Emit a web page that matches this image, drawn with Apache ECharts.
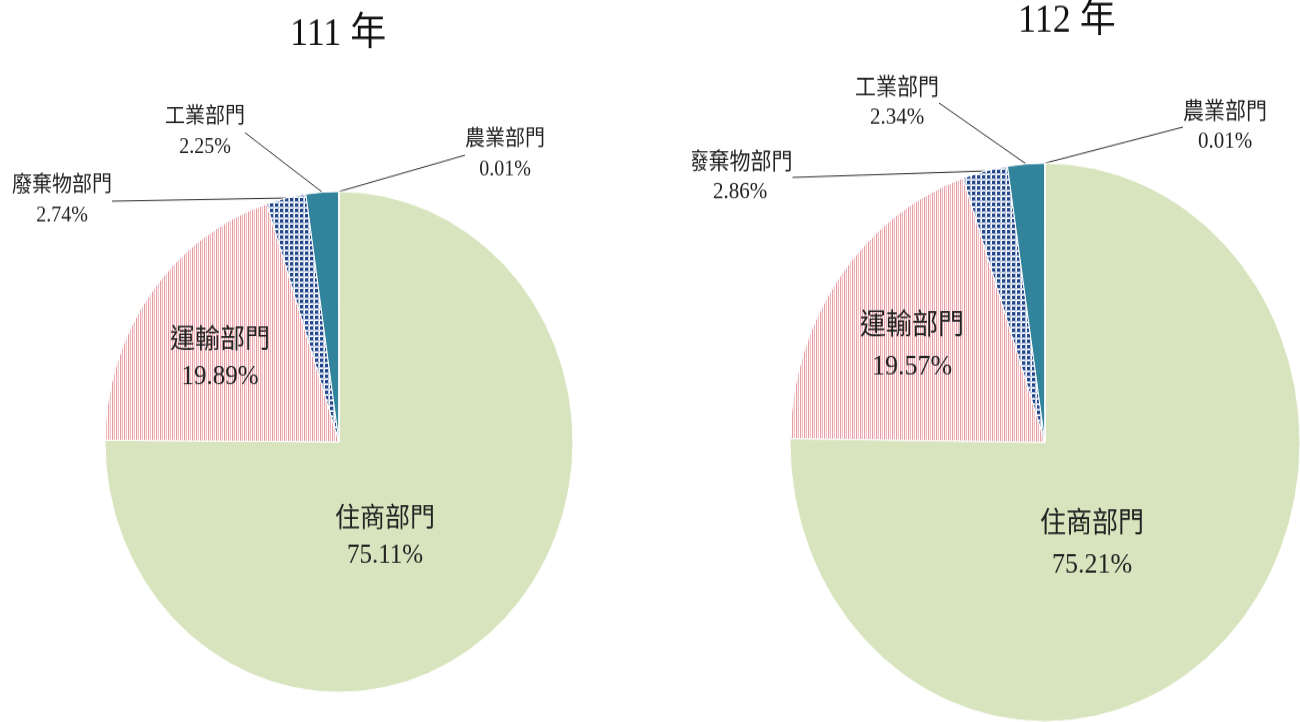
<!DOCTYPE html>
<html>
<head>
<meta charset="utf-8">
<script src="https://cdn.jsdelivr.net/npm/echarts@6/dist/echarts.min.js"></script>
<style>
  html, body { margin: 0; padding: 0; background: #fff; }
  #wrap { position: relative; width: 1300px; height: 722px; overflow: hidden; }
  /* 原圖兩個圓餅都被垂直拉長，用 scaleY 模擬 */
  #pie111 { position: absolute; left: 0; top: 0; width: 692px; height: 675px; transform-origin: 0 0; transform: scaleY(1.07); }
  #pie112 { position: absolute; left: 692px; top: 0; width: 608px; height: 659px; transform-origin: 0 0; transform: scaleY(1.095); }
</style>
</head>
<body>
<div id="wrap">
  <div id="pie111"></div>
  <div id="pie112"></div>
</div>
<script>
// 資料
const sectors = ['住商部門', '運輸部門', '廢棄物部門', '工業部門', '農業部門']
const share111 = [75.11, 19.89, 2.74, 2.25, 0.01]
const share112 = [75.21, 19.57, 2.86, 2.34, 0.01]
const years = ['111 年', '112 年']

const FONT = '"Liberation Serif", "Noto Sans CJK TC", serif'

// 斜線/格紋填色
function stripePattern () {
  const c = document.createElement('canvas')
  c.width = 8; c.height = 2
  const ctx = c.getContext('2d')
  const cols = ['#e49aa1', '#fbecec', '#eeb6bb', '#ffffff', '#e6a3a8', '#fbe8e9', '#f1c3c6', '#ffffff']
  cols.forEach((col, i) => { ctx.fillStyle = col; ctx.fillRect(i, 0, 1, 2) })
  return { image: c, repeat: 'repeat' }
}
function checkPattern () {
  const c = document.createElement('canvas')
  c.width = 5; c.height = 5
  const ctx = c.getContext('2d')
  ctx.fillStyle = '#ffffff'; ctx.fillRect(0, 0, 5, 5)
  ctx.fillStyle = '#b9c6e0'; ctx.fillRect(3, 0, 1, 5); ctx.fillRect(0, 3, 5, 1)
  ctx.fillStyle = '#23478a'; ctx.fillRect(0, 0, 3, 3)
  return { image: c, repeat: 'repeat' }
}
const fills = ['#d7e4bd', stripePattern(), checkPattern(), '#31849b', '#31849b']

function pieOption (title, values, cfg) {
  const data = sectors.map((name, i) => ({
    name: name,
    value: values[i],
    itemStyle: { color: fills[i] },
    label: i < 2
      ? { position: 'inside', fontSize: cfg.inFont, lineHeight: cfg.inLine }
      : { position: 'outside', fontSize: cfg.outFont, lineHeight: cfg.outLine },
    labelLine: { show: i >= 2 }
  }))
  return {
    animation: false,
    title: {
      text: title,
      left: cfg.titleLeft,
      top: cfg.titleTop,
      padding: 0,
      textStyle: { fontFamily: FONT, fontSize: 36, fontWeight: 'normal', color: '#111' }
    },
    series: [{
      type: 'pie',
      center: cfg.center,
      radius: cfg.radius,
      startAngle: 90,
      clockwise: true,
      avoidLabelOverlap: false,
      emphasis: { disabled: true },
      itemStyle: { borderColor: '#fff', borderWidth: 1 },
      label: {
        color: '#222',
        fontFamily: FONT,
        formatter: p => p.name + '\n' + p.value.toFixed(2) + '%'
      },
      labelLine: { length: 10, length2: 0, lineStyle: { color: '#333', width: 1 } },
      labelLayout: params => {
        const p = cfg.labelPos[params.dataIndex]
        return { x: p[0], y: p[1], align: 'center', verticalAlign: 'middle' }
      },
      data: data
    }]
  }
}

let chart111 = echarts.init(document.getElementById('pie111'))
chart111.setOption(pieOption(years[0], share111, {
  center: [339, 413],
  radius: 234,
  titleLeft: 290,
  titleTop: 15,
  inFont: 25, inLine: 34,
  outFont: 20, outLine: 28,
  labelPos: [[385, 502], [220, 335], [62, 188], [205, 124], [505, 145]]
}))

let chart112 = echarts.init(document.getElementById('pie112'))
chart112.setOption(pieOption(years[1], share112, {
  center: [353, 404],
  radius: 255,
  titleLeft: 326,
  titleTop: 2,
  inFont: 26, inLine: 37,
  outFont: 21, outLine: 27,
  labelPos: [[400, 498], [220, 317], [48, 162], [205, 94], [533, 116]]
}))

window.addEventListener('resize', () => { chart111.resize(); chart112.resize() })
</script>
</body>
</html>
